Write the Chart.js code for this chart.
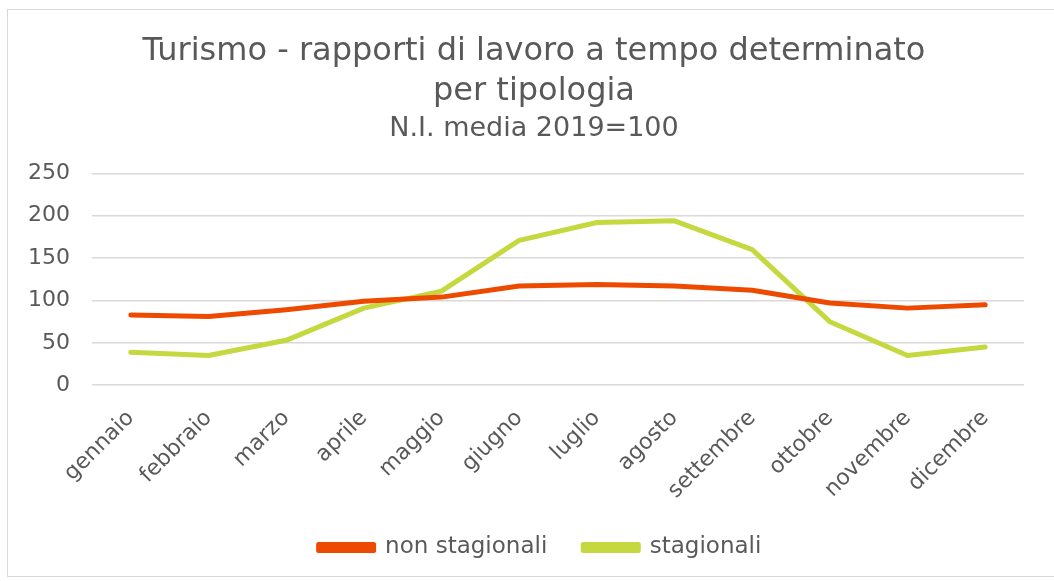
<!DOCTYPE html>
<html lang="it">
<head>
    <meta charset="UTF-8">
    <title>Turismo - rapporti di lavoro a tempo determinato</title>
    <script src="https://cdn.jsdelivr.net/npm/chart.js"></script>
    <style>
        html, body { margin: 0; padding: 0; background: #fff; }
        #wrap { position: relative; width: 1054px; height: 581px; }
        #frame { position: absolute; left: 7px; top: 9px; width: 1060px; height: 568px; border: 1px solid #d9d9d9; box-sizing: border-box; }
        #chart { position: absolute; left: 0; top: 0; }
    </style>
</head>
<body>
<div id="wrap">
    <div id="frame"></div>
    <canvas id="chart" width="1054" height="581"></canvas>
</div>
<script>
    // dati
    const mesi = ['gennaio', 'febbraio', 'marzo', 'aprile', 'maggio', 'giugno',
        'luglio', 'agosto', 'settembre', 'ottobre', 'novembre', 'dicembre'];
    const nonStagionali = [83, 81, 89, 99, 104, 117, 119, 117, 112, 97, 91, 95];
    const stagionali = [39, 35, 53, 91, 111, 171, 192, 194, 160, 75, 35, 45];
    const yTicks = [0, 50, 100, 150, 200, 250];

    const grigio = '#595959';
    const font = 'DejaVu Sans';

    // titoli e legenda un po' spostati a destra, come nell'originale
    const sposta = {
        id: 'sposta',
        afterLayout(chart) {
            chart.boxes.forEach(b => {
                if (b === chart.legend) {
                    b.left += 15; b.right += 15;
                } else if (b.options && b.options.text !== undefined && !b.axis) {
                    b.left += 9; b.right += 9;
                }
            });
        }
    };

    new Chart(document.getElementById('chart'), {
        type: 'line',
        data: {
            labels: mesi,
            datasets: [{
                label: 'non stagionali',
                data: nonStagionali,
                borderColor: '#ED4A00',
                backgroundColor: '#ED4A00',
                borderWidth: 5,
                pointRadius: 0,
                tension: 0,
                borderCapStyle: 'round',
                borderJoinStyle: 'round'
            }, {
                label: 'stagionali',
                data: stagionali,
                borderColor: '#C5D840',
                backgroundColor: '#C5D840',
                borderWidth: 5,
                pointRadius: 0,
                tension: 0,
                borderCapStyle: 'round',
                borderJoinStyle: 'round'
            }]
        },
        plugins: [sposta],
        options: {
            responsive: false,
            animation: false,
            layout: { padding: { left: 26, right: 30, top: 0, bottom: 12 } },
            plugins: {
                title: {
                    display: true,
                    text: ['Turismo - rapporti di lavoro a tempo determinato', 'per tipologia'],
                    color: grigio,
                    font: { family: font, size: 32, weight: 'normal', lineHeight: 1.25 },
                    padding: { top: 32, bottom: 1 }
                },
                subtitle: {
                    display: true,
                    text: 'N.I. media 2019=100',
                    color: grigio,
                    font: { family: font, size: 27, weight: 'normal', lineHeight: 1.2 },
                    padding: { top: 0, bottom: 28 }
                },
                legend: {
                    position: 'bottom',
                    labels: {
                        color: grigio,
                        font: { family: font, size: 23 },
                        boxWidth: 55,
                        boxHeight: 6,
                        padding: 36
                    }
                },
                tooltip: { enabled: false }
            },
            scales: {
                x: {
                    offset: true,
                    afterFit: axis => { axis.height -= 16; },
                    grid: { display: false },
                    border: { display: false },
                    ticks: {
                        color: grigio,
                        font: { family: font, size: 22 },
                        minRotation: 45,
                        maxRotation: 45,
                        padding: 12
                    }
                },
                y: {
                    min: yTicks[0],
                    max: yTicks[yTicks.length - 1],
                    afterBuildTicks: axis => { axis.ticks = yTicks.map(v => ({ value: v })); },
                    afterFit: axis => { axis.width = 66; },
                    grid: { color: '#d9d9d9', lineWidth: 1.5, drawTicks: false },
                    border: { display: false },
                    ticks: {
                        color: grigio,
                        font: { family: font, size: 22 },
                        padding: 22
                    }
                }
            }
        }
    });
</script>
</body>
</html>
